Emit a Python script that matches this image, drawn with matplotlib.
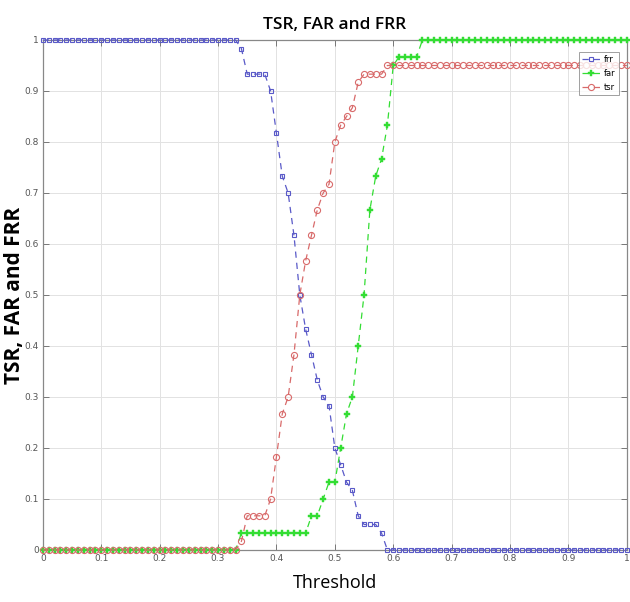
import numpy as np
import matplotlib
matplotlib.use("Agg")
import matplotlib.pyplot as plt

# Threshold sweep 0.00 .. 1.00 in steps of 0.01
threshold = np.round(np.arange(0, 101) / 100, 2)

# False rejection rate
frr = ([1.0] * 34 +
       [0.983, 0.933, 0.933, 0.933, 0.933, 0.9, 0.817, 0.733, 0.7, 0.617,
        0.5, 0.433, 0.383, 0.333, 0.3, 0.283, 0.2, 0.167, 0.133, 0.117,
        0.067, 0.05, 0.05, 0.05, 0.033] +
       [0.0] * 42)

# False acceptance rate
far = ([0.0] * 34 +
       [0.033] * 12 +
       [0.067, 0.067, 0.1, 0.133, 0.133, 0.2, 0.267, 0.3, 0.4, 0.5,
        0.667, 0.733, 0.767, 0.833, 0.95, 0.967, 0.967, 0.967, 0.967] +
       [1.0] * 36)

# Total success rate
tsr = ([0.0] * 34 +
       [0.017, 0.067, 0.067, 0.067, 0.067, 0.1, 0.183, 0.267, 0.3, 0.383,
        0.5, 0.567, 0.617, 0.667, 0.7, 0.717, 0.8, 0.833, 0.85, 0.867,
        0.917, 0.933, 0.933, 0.933, 0.933] +
       [0.95] * 42)

series_names = ["frr", "far", "tsr"]
x_ticks = np.round(np.arange(0, 11) / 10, 1)
x_tick_labels = ["0", "0.1", "0.2", "0.3", "0.4", "0.5", "0.6", "0.7", "0.8", "0.9", "1"]
y_ticks = x_ticks
y_tick_labels = x_tick_labels

fig = plt.figure(figsize=(6.30, 6.02), dpi=100)
ax = fig.add_axes([0.068, 0.0864, 0.927, 0.8472])

tick_font = ["Liberation Sans Narrow", "DejaVu Sans"]
head_font = ["Open Sans", "DejaVu Sans"]

ax.plot(threshold, frr, linestyle="--", dashes=(5, 4), color="#5a5ac8", lw=0.9,
        marker="s", markersize=3.3, markerfacecolor="none", markeredgewidth=0.8,
        label=series_names[0], clip_on=False, zorder=3)
ax.plot(threshold, far, linestyle="--", dashes=(5, 4), color="#33dd33", lw=0.9,
        marker="P", markersize=4.2, markerfacecolor="#33dd33", markeredgewidth=0.3,
        label=series_names[1], clip_on=False, zorder=3)
ax.plot(threshold, tsr, linestyle="--", dashes=(5, 4), color="#d86a6a", lw=0.9,
        marker="o", markersize=4.4, markerfacecolor="none", markeredgewidth=0.8,
        label=series_names[2], clip_on=False, zorder=3)

ax.set_xlim(0, 1)
ax.set_ylim(0, 1)
ax.set_xticks(x_ticks)
ax.set_xticklabels(x_tick_labels, family=tick_font, fontsize=6.5, color="#555555")
ax.set_yticks(y_ticks)
ax.set_yticklabels(y_tick_labels, family=tick_font, fontsize=6.5, color="#555555")
ax.tick_params(direction="in", length=4, width=0.7, color="#777777",
               top=True, right=True, pad=3)

ax.grid(True, color="#e2e2e2", lw=0.7)
ax.set_axisbelow(True)
for side in ["left", "bottom", "top", "right"]:
    ax.spines[side].set_color("#888888")
    ax.spines[side].set_linewidth(0.9)

ax.set_title("TSR, FAR and FRR", family=head_font, fontsize=12.5,
             fontweight="semibold", pad=8)
ax.set_xlabel("Threshold", family=head_font, fontsize=13, labelpad=8)
ax.set_ylabel("TSR, FAR and FRR", family=head_font, fontsize=15,
              fontweight="bold")
ax.yaxis.set_label_coords(-0.031, 0.5)

leg = ax.legend(loc="upper right", bbox_to_anchor=(0.993, 0.985),
                prop={"family": tick_font, "size": 6}, frameon=True,
                fancybox=False, edgecolor="#888888", handlelength=2.2,
                borderpad=0.4, labelspacing=0.6, handletextpad=0.4)
leg.get_frame().set_linewidth(0.7)

fig.savefig("out.png", dpi=100, facecolor="white")
